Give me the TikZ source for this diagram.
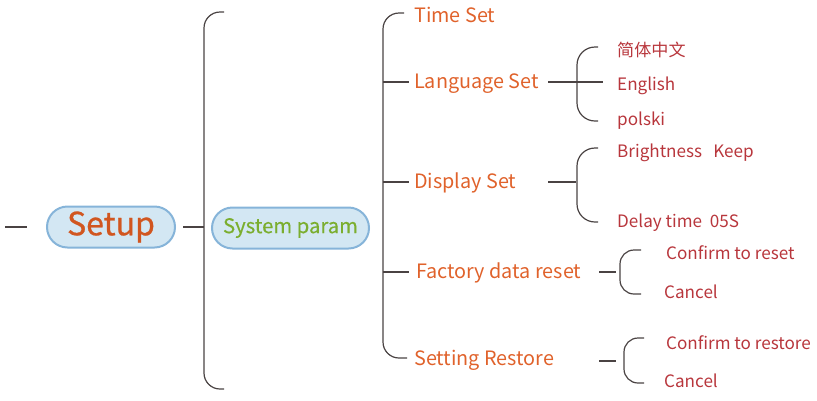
\documentclass[tikz,border=0pt]{standalone}
\usepackage{fontspec}
\setmainfont{Noto Sans CJK SC}
\usetikzlibrary{shapes.misc}
\definecolor{linec}{HTML}{4A4343}
\definecolor{orangec}{HTML}{E0622B}
\definecolor{setupc}{HTML}{D15620}
\definecolor{redc}{HTML}{B8363C}
\definecolor{greenc}{HTML}{7BAE2F}
\definecolor{pillfill}{HTML}{D3E7F3}
\definecolor{pilldraw}{HTML}{86B4D9}
\tikzset{
  x=1pt,y=-1pt,
  conn/.style={draw=linec,line width=1.2pt},
  brace/.style={draw=linec,line width=1.2pt,rounded corners=16pt},
  pill/.style={rounded rectangle,draw=pilldraw,fill=pillfill,line width=2pt,inner sep=0pt},
  lvl1/.style={anchor=base west,inner sep=0pt,text=orangec,font=\fontsize{19.8}{19.8}\selectfont},
  lvl2/.style={anchor=base west,inner sep=0pt,text=redc,font=\fontsize{17.1}{17.1}\selectfont},
}
\begin{document}
\begin{tikzpicture}
\useasboundingbox (0,0) rectangle (817,400);
% main nodes
\node[pill,minimum width=128pt,minimum height=41pt,text=setupc,font=\fontsize{32}{32}\selectfont\addfontfeature{FakeBold=0.7}] (setup) at (111,227) {Setup};
\node[pill,minimum width=157pt,minimum height=41pt,text=greenc,font=\fontsize{20.3}{20.3}\selectfont\addfontfeature{FakeBold=0.4}] (sys) at (290.5,228) {System param};
\coordinate (lstart) at (5,227);
\coordinate (lend) at (27,227);
\draw[conn] (lstart) -- (lend);
% big bracket
\coordinate (b1t) at (224,12);
\coordinate (b1b) at (224,389);
\coordinate (b1m) at (204,227);
\coordinate (sr) at (183,227);
\draw[brace] (b1t) -- (204,12) -- (204,389) -- (b1b);
\draw[conn] (sr) -- (b1m);
% level 1 texts
\node[lvl1] (time) at (414,22) {Time Set};
\node[lvl1] (lang) at (414,88) {Language Set};
\node[lvl1] (disp) at (414,188) {Display Set};
\node[lvl1] (fact) at (416,278) {Factory data reset};
\node[lvl1] (rest) at (414,365) {Setting Restore};
% second bracket
\coordinate (b2t) at (404,13);
\coordinate (b2b) at (407,358);
\draw[brace] (b2t) -- (383,13) -- (383,358) -- (b2b);
\coordinate (t1) at (383,82);
\coordinate (t2) at (383,182);
\coordinate (t3) at (383,272);
\draw[conn] (t1) -- ([xshift=-5pt]t1 -| lang.west);
\draw[conn] (t2) -- ([xshift=-5pt]t2 -| disp.west);
\draw[conn] (t3) -- ([xshift=-7pt]t3 -| fact.west);
% language bracket
\coordinate (la) at (548,82);
\coordinate (lb) at (603,82);
\draw[conn] (la) -- (lb);
\draw[brace,rounded corners=18pt] (598,47) -- (577,47) -- (577,121) -- (598,121);
\node[lvl2] (zh) at (617,56) {简体中文};
\node[lvl2] (en) at (617,90) {English};
\node[lvl2] (pl) at (617,125) {polski};
% display bracket
\coordinate (da) at (548,182);
\coordinate (db) at (576,182);
\draw[conn] (da) -- (db);
\draw[brace,rounded corners=18pt] (598,148) -- (577,148) -- (577,222) -- (598,222);
\node[lvl2] (br) at (617,157) {Brightness\hspace{0.65em}Keep};
\node[lvl2] (dl) at (617,227) {Delay time\hspace{0.45em}05S};
% factory bracket
\coordinate (fa) at (599,272);
\coordinate (fb) at (616,272);
\draw[conn] (fa) -- (fb);
\draw[brace,rounded corners=14pt] (641,250) -- (620,250) -- (620,294) -- (641,294);
\node[lvl2] (cr) at (666,259) {Confirm to reset};
\node[lvl2] (c1) at (664,298) {Cancel};
% restore bracket
\coordinate (ra) at (599,361);
\coordinate (rb) at (616,361);
\draw[conn] (ra) -- (rb);
\draw[brace,rounded corners=14pt] (644,338) -- (624,338) -- (624,383) -- (644,383);
\node[lvl2] (cs) at (666,349) {Confirm to restore};
\node[lvl2] (c2) at (664,387) {Cancel};
\end{tikzpicture}
\end{document}
